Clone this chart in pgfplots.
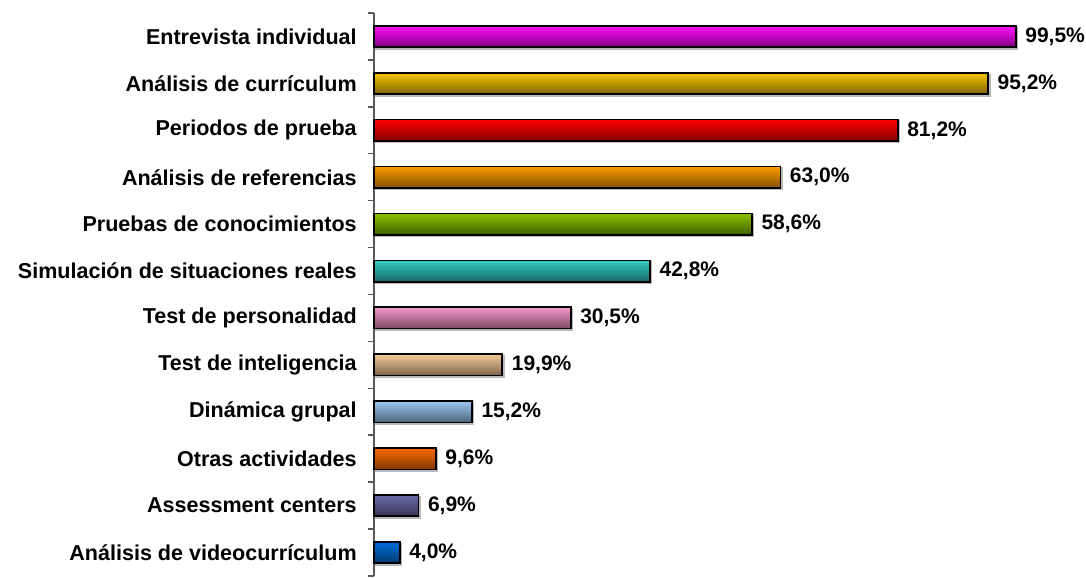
\documentclass[border=0pt]{standalone}
\usepackage{pgfplots}
\pgfplotsset{compat=1.18}
\usepackage{fontspec}
\setmainfont{Liberation Sans}
\definecolor{c1t}{HTML}{FF10FF}\definecolor{c1b}{HTML}{800080}
\definecolor{c2t}{HTML}{F5C800}\definecolor{c2b}{HTML}{806000}
\definecolor{c3t}{HTML}{FF0000}\definecolor{c3b}{HTML}{850000}
\definecolor{c4t}{HTML}{FF9A00}\definecolor{c4b}{HTML}{805000}
\definecolor{c5t}{HTML}{8CC000}\definecolor{c5b}{HTML}{406000}
\definecolor{c6t}{HTML}{33CCC4}\definecolor{c6b}{HTML}{1A6662}
\definecolor{c7t}{HTML}{F596C8}\definecolor{c7b}{HTML}{7A4A64}
\definecolor{c8t}{HTML}{F5C896}\definecolor{c8b}{HTML}{7A644B}
\definecolor{c9t}{HTML}{9CC8F5}\definecolor{c9b}{HTML}{4E647A}
\definecolor{c10t}{HTML}{FF6A00}\definecolor{c10b}{HTML}{803500}
\definecolor{c11t}{HTML}{6A6AA8}\definecolor{c11b}{HTML}{353554}
\definecolor{c12t}{HTML}{0070DC}\definecolor{c12b}{HTML}{00386E}
\newcommand{\mybar}[3]{\addplot[xbar, bar width=11.8pt, draw=black, line width=0.9pt,
  top color=#1, bottom color=#2,
  preaction={fill=gray!55, draw=gray!55, transform canvas={xshift=0.9pt,yshift=-0.9pt}},
  nodes near coords={\pgfmathprintnumber[fixed,fixed zerofill,precision=1,use comma,assume math mode=true]{\pgfplotspointmeta}\%},
  every node near coord/.append style={font=\fontsize{11.6}{13}\selectfont\bfseries, text=black, anchor=west, xshift=1.5pt}
  ] coordinates {(#3)};}
\begin{document}
\begin{tikzpicture}
\begin{axis}[
  at={(0,0)}, anchor=south west,
  scale only axis, width=356.4pt, height=311pt,
  xmin=0, xmax=100, ymin=-0.5, ymax=11.5,
  axis x line=none,
  axis y line*=left,
  y axis line style={draw=gray!70!black, line width=0.8pt},
  ytick={0,...,11},
  yticklabels={Análisis de videocurrículum, Assessment centers, Otras actividades, Dinámica grupal, Test de inteligencia, Test de personalidad, Simulación de situaciones reales, Pruebas de conocimientos, Análisis de referencias, Periodos de prueba, Análisis de currículum, Entrevista individual},
  major tick length=0pt,
  minor ytick={-0.5,0.5,...,11.5},
  minor tick length=3.3pt,
  tick align=outside,
  minor tick style={draw=gray!70!black, line width=0.8pt},
  yticklabel style={font=\fontsize{11.9}{13}\selectfont\bfseries, xshift=-6pt},
  clip=false,
]
\mybar{c1t}{c1b}{99.5,11}
\mybar{c2t}{c2b}{95.2,10}
\mybar{c3t}{c3b}{81.2,9}
\mybar{c4t}{c4b}{63.0,8}
\mybar{c5t}{c5b}{58.6,7}
\mybar{c6t}{c6b}{42.8,6}
\mybar{c7t}{c7b}{30.5,5}
\mybar{c8t}{c8b}{19.9,4}
\mybar{c9t}{c9b}{15.2,3}
\mybar{c10t}{c10b}{9.6,2}
\mybar{c11t}{c11b}{6.9,1}
\mybar{c12t}{c12b}{4.0,0}
\end{axis}
\pgfresetboundingbox
\path (-206.6pt,-0.6pt) rectangle (393.4pt,318.2pt);
\end{tikzpicture}
\end{document}
